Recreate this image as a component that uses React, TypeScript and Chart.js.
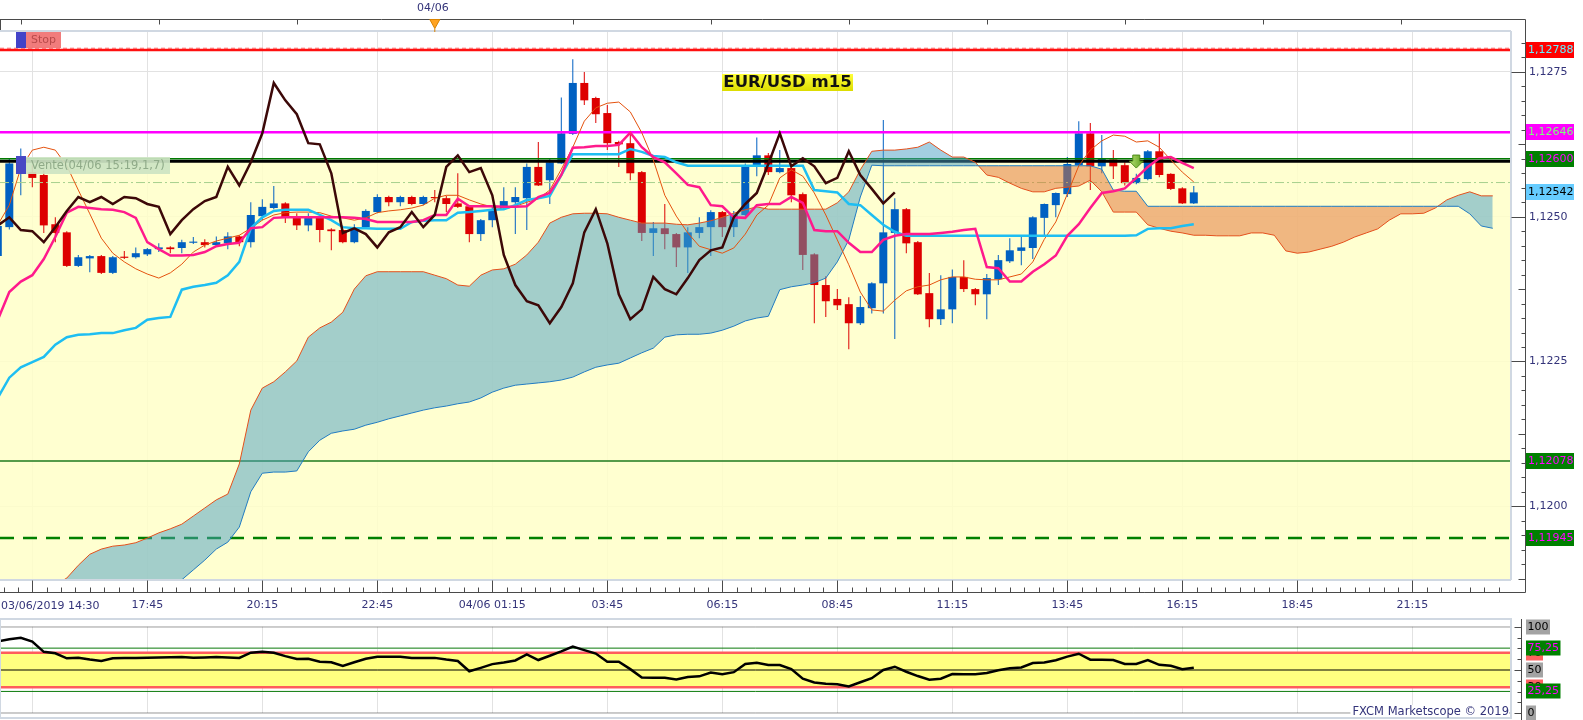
import React, { useEffect, useRef } from "react";
import Chart from "chart.js/auto";

// ---------- DATA ----------
const opens = [1.12432,1.12482,1.12580,1.12577,1.12572,1.12487,1.12473,1.12415,1.12428,1.12432,
1.12403,1.12431,1.12430,1.12435,1.12444,1.12447,1.12446,1.12455,1.12456,1.12451,
1.12454,1.12466,1.12456,1.12501,1.12515,1.12523,1.12499,1.12485,1.12499,1.12478,
1.12477,1.12456,1.12482,1.12508,1.12534,1.12525,1.12534,1.12522,1.12534,1.12532,
1.12523,1.12518,1.12470,1.12494,1.12515,1.12525,1.12532,1.12586,1.12563,1.12592,
1.12643,1.12731,1.12705,1.12679,1.12629,1.12627,1.12577,1.12472,1.12480,1.12470,
1.12447,1.12472,1.12482,1.12508,1.12482,1.12503,1.12586,1.12606,1.12577,1.12584,
1.12539,1.12435,1.12382,1.12358,1.12349,1.12316,1.12342,1.12385,1.12472,1.12513,
1.12456,1.12368,1.12323,1.12340,1.12396,1.12375,1.12366,1.12392,1.12423,1.12441,
1.12446,1.12498,1.12520,1.12539,1.12589,1.12644,1.12587,1.12599,1.12589,1.12558,
1.12565,1.12613,1.12574,1.12549,1.12523];
const closes = [1.12484,1.12592,1.12598,1.12567,1.12485,1.12472,1.12415,1.12430,1.12432,1.12403,
1.12430,1.12429,1.12437,1.12444,1.12447,1.12444,1.12456,1.12457,1.12451,1.12456,
1.12466,1.12456,1.12503,1.12517,1.12523,1.12499,1.12485,1.12499,1.12477,1.12475,
1.12456,1.12482,1.12510,1.12534,1.12525,1.12534,1.12522,1.12534,1.12532,1.12522,
1.12517,1.12470,1.12494,1.12513,1.12527,1.12534,1.12586,1.12554,1.12594,1.12644,
1.12731,1.12701,1.12677,1.12627,1.12625,1.12575,1.12472,1.12480,1.12470,1.12447,
1.12473,1.12482,1.12508,1.12482,1.12503,1.12586,1.12606,1.12577,1.12584,1.12537,
1.12434,1.12382,1.12354,1.12347,1.12316,1.12344,1.12385,1.12473,1.12513,1.12454,
1.12366,1.12323,1.12340,1.12396,1.12375,1.12366,1.12394,1.12425,1.12442,1.12447,
1.12499,1.12522,1.12541,1.12591,1.12644,1.12587,1.12601,1.12587,1.12558,1.12567,
1.12613,1.12572,1.12548,1.12523,1.12542];
const highs = [1.12487,1.12601,1.12618,1.12589,1.12580,1.12499,1.12475,1.12434,1.12434,1.12434,
1.12432,1.12441,1.12447,1.12446,1.12454,1.12449,1.12460,1.12465,1.12461,1.12466,
1.12473,1.12468,1.12525,1.12530,1.12553,1.12525,1.12506,1.12506,1.12503,1.12480,
1.12478,1.12487,1.12513,1.12539,1.12536,1.12536,1.12536,1.12536,1.12546,1.12536,
1.12575,1.12520,1.12496,1.12517,1.12551,1.12551,1.12592,1.12629,1.12601,1.12706,
1.12772,1.12750,1.12707,1.12693,1.12631,1.12646,1.12579,1.12491,1.12522,1.12472,
1.12482,1.12499,1.12511,1.12510,1.12510,1.12592,1.12637,1.12610,1.12615,1.12587,
1.12542,1.12437,1.12397,1.12375,1.12361,1.12363,1.12387,1.12667,1.12532,1.12515,
1.12458,1.12403,1.12399,1.12409,1.12425,1.12377,1.12401,1.12434,1.12463,1.12465,
1.12501,1.12523,1.12542,1.12603,1.12665,1.12662,1.12641,1.12615,1.12594,1.12574,
1.12615,1.12644,1.12575,1.12551,1.12553];
const lows = [1.12428,1.12478,1.12537,1.12551,1.12472,1.12456,1.12413,1.12413,1.12404,1.12401,
1.12401,1.12427,1.12428,1.12432,1.12439,1.12437,1.12437,1.12453,1.12447,1.12449,
1.12444,1.12449,1.12447,1.12494,1.12513,1.12489,1.12477,1.12475,1.12456,1.12442,
1.12454,1.12454,1.12480,1.12506,1.12518,1.12518,1.12520,1.12520,1.12525,1.12508,
1.12515,1.12456,1.12458,1.12482,1.12513,1.12470,1.12477,1.12553,1.12522,1.12591,
1.12641,1.12693,1.12662,1.12615,1.12586,1.12563,1.12458,1.12432,1.12444,1.12413,
1.12403,1.12463,1.12432,1.12465,1.12465,1.12501,1.12570,1.12572,1.12575,1.12525,
1.12408,1.12316,1.12327,1.12339,1.12271,1.12313,1.12333,1.12333,1.12289,1.12437,
1.12365,1.12309,1.12313,1.12316,1.12370,1.12347,1.12323,1.12382,1.12420,1.12416,
1.12427,1.12465,1.12499,1.12534,1.12587,1.12546,1.12575,1.12565,1.12554,1.12556,
1.12563,1.12568,1.12546,1.12522,1.12522];

const tenkan = [1.12322,1.12370,1.12388,1.12399,1.12427,1.12465,1.12507,1.12517,1.12515,1.12513,
1.12512,1.12508,1.12498,1.12456,1.12444,1.12433,1.12433,1.12434,1.12439,1.12449,
1.12453,1.12455,1.12480,1.12482,1.12498,1.12499,1.12499,1.12499,1.12499,1.12499,
1.12499,1.12498,1.12496,1.12491,1.12491,1.12491,1.12491,1.12494,1.12503,1.12503,
1.12531,1.12518,1.12518,1.12518,1.12517,1.12517,1.12518,1.12534,1.12541,1.12572,
1.12619,1.12620,1.12622,1.12622,1.12624,1.12645,1.12620,1.12603,1.12594,1.12575,
1.12555,1.12551,1.12520,1.12518,1.12499,1.12498,1.12520,1.12522,1.12522,1.12534,
1.12524,1.12477,1.12475,1.12475,1.12455,1.12439,1.12439,1.12460,1.12467,1.12470,
1.12470,1.12470,1.12472,1.12474,1.12477,1.12479,1.12413,1.12411,1.12388,1.12388,
1.12405,1.12418,1.12433,1.12467,1.12487,1.12515,1.12541,1.12544,1.12549,1.12567,
1.12586,1.12601,1.12603,1.12593,1.12584];
const kijun = [1.12187,1.12222,1.12240,1.12249,1.12258,1.12279,1.12292,1.12296,1.12297,1.12299,
1.12299,1.12304,1.12308,1.12322,1.12325,1.12327,1.12374,1.12379,1.12382,1.12386,
1.12399,1.12422,1.12480,1.12499,1.12510,1.12512,1.12512,1.12512,1.12503,1.12494,
1.12482,1.12480,1.12480,1.12479,1.12479,1.12479,1.12491,1.12493,1.12494,1.12494,
1.12507,1.12508,1.12510,1.12512,1.12513,1.12520,1.12529,1.12532,1.12536,1.12572,
1.12608,1.12608,1.12608,1.12608,1.12608,1.12617,1.12612,1.12605,1.12603,1.12594,
1.12588,1.12588,1.12588,1.12588,1.12588,1.12588,1.12588,1.12588,1.12588,1.12588,
1.12588,1.12546,1.12544,1.12542,1.12522,1.12520,1.12503,1.12486,1.12474,1.12467,
1.12467,1.12467,1.12467,1.12467,1.12467,1.12467,1.12467,1.12467,1.12467,1.12467,
1.12467,1.12467,1.12467,1.12467,1.12467,1.12467,1.12467,1.12467,1.12467,1.12468,
1.12479,1.12480,1.12480,1.12484,1.12487];
const thinAvg = [1.12486,1.12520,1.12584,1.12615,1.12620,1.12615,1.12588,1.12546,1.12505,1.12463,
1.12437,1.12422,1.12410,1.12401,1.12394,1.12403,1.12418,1.12439,1.12451,1.12458,
1.12463,1.12468,1.12480,1.12494,1.12503,1.12507,1.12508,1.12508,1.12507,1.12501,
1.12498,1.12494,1.12498,1.12507,1.12510,1.12512,1.12515,1.12520,1.12532,1.12537,
1.12537,1.12529,1.12522,1.12517,1.12513,1.12518,1.12525,1.12531,1.12546,1.12582,
1.12620,1.12665,1.12688,1.12696,1.12698,1.12681,1.12645,1.12598,1.12537,1.12501,
1.12472,1.12449,1.12443,1.12437,1.12446,1.12470,1.12503,1.12520,1.12567,1.12581,
1.12570,1.12541,1.12503,1.12460,1.12417,1.12370,1.12339,1.12337,1.12356,1.12372,
1.12379,1.12382,1.12391,1.12396,1.12396,1.12392,1.12391,1.12391,1.12396,1.12401,
1.12422,1.12461,1.12491,1.12539,1.12588,1.12615,1.12631,1.12641,1.12639,1.12629,
1.12631,1.12620,1.12598,1.12577,1.12560];
const senkouA = [1.11804,1.11812,1.11821,1.11838,1.11852,1.11864,1.11876,1.11898,1.11917,1.11926,
1.11931,1.11933,1.11937,1.11945,1.11954,1.11961,1.11969,1.11983,1.11997,1.12011,
1.12021,1.12073,1.12166,1.12204,1.12215,1.12232,1.12251,1.12292,1.12308,1.12318,
1.12335,1.12375,1.12398,1.12405,1.12405,1.12405,1.12405,1.12405,1.12399,1.12393,
1.12382,1.12380,1.12399,1.12408,1.12410,1.12418,1.12434,1.12456,1.12489,1.12499,
1.12505,1.12506,1.12506,1.12505,1.12499,1.12494,1.12489,1.12489,1.12489,1.12487,
1.12486,1.12489,1.12493,1.12499,1.12506,1.12512,1.12517,1.12513,1.12513,1.12513,
1.12513,1.12513,1.12513,1.12524,1.12543,1.12581,1.12613,1.12615,1.12615,1.12617,
1.12620,1.12629,1.12615,1.12603,1.12603,1.12594,1.12572,1.12568,1.12558,1.12549,
1.12543,1.12543,1.12549,1.12551,1.12553,1.12563,1.12543,1.12508,1.12508,1.12508,
1.12486,1.12480,1.12475,1.12472,1.12468,1.12468,1.12467,1.12467,1.12467,1.12472,
1.12472,1.12468,1.12441,1.12437,1.12439,1.12444,1.12449,1.12456,1.12465,1.12472,
1.12479,1.12494,1.12505,1.12505,1.12506,1.12515,1.12529,1.12537,1.12543,1.12536,
1.12536];
const senkouB = [1.11804,1.11804,1.11804,1.11804,1.11804,1.11804,1.11804,1.11804,1.11804,1.11804,
1.11804,1.11804,1.11804,1.11804,1.11804,1.11838,1.11873,1.11890,1.11907,1.11926,
1.11938,1.11964,1.12025,1.12057,1.12059,1.12059,1.12061,1.12094,1.12114,1.12126,
1.12130,1.12133,1.12140,1.12145,1.12151,1.12156,1.12161,1.12166,1.12170,1.12173,
1.12177,1.12180,1.12187,1.12197,1.12204,1.12209,1.12211,1.12213,1.12215,1.12218,
1.12223,1.12232,1.12240,1.12244,1.12247,1.12256,1.12265,1.12273,1.12292,1.12296,
1.12297,1.12297,1.12299,1.12304,1.12311,1.12320,1.12325,1.12328,1.12374,1.12379,
1.12382,1.12386,1.12394,1.12422,1.12460,1.12534,1.12589,1.12588,1.12588,1.12588,
1.12588,1.12588,1.12588,1.12588,1.12588,1.12588,1.12588,1.12588,1.12588,1.12588,
1.12588,1.12588,1.12588,1.12588,1.12588,1.12588,1.12582,1.12546,1.12544,1.12544,
1.12518,1.12518,1.12518,1.12518,1.12518,1.12518,1.12518,1.12518,1.12518,1.12518,
1.12518,1.12518,1.12518,1.12518,1.12518,1.12518,1.12518,1.12518,1.12518,1.12518,
1.12518,1.12518,1.12518,1.12518,1.12518,1.12518,1.12518,1.12518,1.12505,1.12484,
1.12480];
const oscValues = [83,85.5,87.3,82.7,71,69.3,63.5,64.2,62,60.4,
63.5,63.8,64,64.2,64.5,64.8,65,64.2,64.5,65,
64.5,64,70,71,70,66,62.7,63,59.5,58.9,
54.6,59,63,65.4,65.4,65.4,63.8,64,64,62,
60.4,48.5,52.5,56.8,58.7,61,68,61.5,66.5,71.5,
77,73,69,59.6,59.5,51,41.2,41.1,41,39,
42,42.7,47,45,47.5,57,58.4,55.8,55.8,51,
40,35.5,34,33.5,31,35.8,40.5,50,53.8,48,
43,38.7,40,45.4,45.2,45,46.5,49.7,52,53,
58,58.7,61.3,65.4,68.8,61.9,61.7,61.5,57,57,
61.5,56,54.8,51,52.7];

const chikouShift = 26;
const xTickIdx = [3, 13, 23, 33, 43, 53, 63, 73, 83, 93, 103, 113, 123];
const xTickLabels = ["", "17:45", "20:15", "22:45", "04/06 01:15", "03:45", "06:15", "08:45", "11:15", "13:45", "16:15", "18:45", "21:15"];
const firstBarLabel = "03/06/2019 14:30";
const yTickValues = [1.12, 1.1225, 1.125, 1.1275];
const dayStartIdx = 38;
const dayStartLabel = "04/06";
const signalIdx = 99;
const signalPrice = 1.12584;

const stopLevel = 1.12788;
const magentaLevel = 1.12646;
const greenLevel = 1.126;
const zoneTop = 1.12596;
const entryLevel = 1.12559;
const lastPrice = 1.12542;
const supportLevel = 1.12078;
const targetLevel = 1.11945;

const oscLevels = [100, 75.25, 70, 50, 30, 25.25, 0];

// ---------- LAYOUT CONSTANTS ----------
const X_MIN = 0.1913;
const X_MAX = 131.583;
const Y_MIN = 1.118726;
const Y_MAX = 1.12819;
const FONT = "'DejaVu Sans', sans-serif";
const NAVY = "#34347a";
const UP = "#0060C2";
const DOWN = "#DD0000";

const fmt = (v: number, d: number) => v.toFixed(d).replace(".", ",");

function hline(value: number, color: string, width: number, order: number, dash?: number[]) {
  return {
    type: "line" as const,
    data: [{ x: X_MIN, y: value }, { x: X_MAX, y: value }],
    borderColor: color,
    borderWidth: width,
    borderDash: dash || [],
    pointRadius: 0,
    fill: false,
    order,
  };
}

const priceLabels = [
  { v: stopLevel, bg: "#FF0000", fg: "#66F0FF" },
  { v: magentaLevel, bg: "#FF00FF", fg: "#7CFF7C" },
  { v: greenLevel, bg: "#008000", fg: "#FF00FF" },
  { v: lastPrice, bg: "#66CCFF", fg: "#000000" },
  { v: supportLevel, bg: "#008000", fg: "#FF00FF" },
  { v: targetLevel, bg: "#008000", fg: "#FF00FF" },
];

const mainDecor = {
  id: "mainDecor",
  beforeDatasetsDraw(chart: any) {
    const { ctx, chartArea: ca, scales } = chart;
    const top = scales.y.getPixelForValue(zoneTop);
    ctx.save();
    ctx.fillStyle = "rgba(255,255,200,0.85)";
    ctx.fillRect(ca.left, top, ca.right - ca.left, ca.bottom - top);
    ctx.restore();
  },
  afterDraw(chart: any) {
    const { ctx, chartArea: ca, scales } = chart;
    const x = scales.x, y = scales.y;
    const AX = 1525.5, TOPY = 19.5, BOTY = 592.5;
    ctx.save();
    // plot frame
    ctx.strokeStyle = "#D0D8E2";
    ctx.lineWidth = 2;
    ctx.beginPath();
    ctx.moveTo(0, ca.top - 1); ctx.lineTo(ca.right, ca.top - 1);
    ctx.moveTo(ca.right, ca.top - 1); ctx.lineTo(ca.right, ca.bottom);
    ctx.moveTo(0, ca.bottom); ctx.lineTo(ca.right, ca.bottom);
    ctx.stroke();
    // axes
    ctx.strokeStyle = "#4a4a4a";
    ctx.lineWidth = 1;
    ctx.beginPath();
    ctx.moveTo(0, TOPY); ctx.lineTo(AX, TOPY); ctx.lineTo(AX, BOTY); ctx.lineTo(0, BOTY);
    ctx.moveTo(0.5, TOPY); ctx.lineTo(0.5, ca.top - 2);
    // price ticks
    const k0 = Math.ceil(Y_MIN * 4000), k1 = Math.floor(Y_MAX * 4000);
    for (let k = k0; k <= k1; k++) {
      const py = Math.round(y.getPixelForValue(k / 4000)) + 0.5;
      const len = k % 10 === 0 ? 14 : k % 5 === 0 ? 7 : 4;
      ctx.moveTo(AX - len, py); ctx.lineTo(AX, py);
    }
    // time ticks bottom
    for (let b = 3 - 2.5; b <= X_MAX; b += 1.25) {
      const px = Math.round(x.getPixelForValue(b)) + 0.5;
      const major = Math.abs(((b - 3) / 10) - Math.round((b - 3) / 10)) < 1e-6;
      ctx.moveTo(px, BOTY); ctx.lineTo(px, BOTY - (major ? 12 : 5));
    }
    // time ticks top
    for (let b = 2; b <= X_MAX; b += 12) {
      const px = Math.round(x.getPixelForValue(b)) + 0.5;
      ctx.moveTo(px, TOPY); ctx.lineTo(px, TOPY + 5);
    }
    ctx.stroke();

    // first date label
    ctx.font = `11px ${FONT}`;
    ctx.fillStyle = NAVY;
    ctx.textBaseline = "middle";
    ctx.textAlign = "left";
    ctx.fillText(firstBarLabel, 1, 606);

    // day marker on top
    const dx = x.getPixelForValue(dayStartIdx);
    ctx.textAlign = "center";
    ctx.fillText(dayStartLabel, dx - 2, 8);
    ctx.fillStyle = "#FFA321";
    ctx.strokeStyle = "#D98200";
    ctx.beginPath();
    ctx.moveTo(dx - 5, TOPY); ctx.lineTo(dx + 5, TOPY); ctx.lineTo(dx, TOPY + 9); ctx.closePath();
    ctx.fill(); ctx.stroke();
    ctx.beginPath(); ctx.moveTo(dx, TOPY + 9); ctx.lineTo(dx, ca.top); ctx.stroke();

    // price labels
    ctx.textAlign = "left";
    for (const p of priceLabels) {
      const py = y.getPixelForValue(p.v);
      ctx.fillStyle = p.bg;
      ctx.fillRect(1526, Math.round(py) - 8, 48, 16);
      ctx.fillStyle = p.fg;
      ctx.fillText(fmt(p.v, 5), 1528, Math.round(py) + 0.5);
    }

    // Stop label
    ctx.fillStyle = "#4343C8";
    ctx.fillRect(16, 32, 10, 16);
    ctx.fillStyle = "rgba(240,110,110,0.9)";
    ctx.fillRect(26, 32, 35, 16);
    ctx.fillStyle = "#B84A4A";
    ctx.font = `11px ${FONT}`;
    ctx.fillText("Stop", 31, 40.5);

    // Vente label
    ctx.fillStyle = "#4848C4";
    ctx.fillRect(16, 156, 10, 18);
    ctx.fillStyle = "rgba(205,228,195,0.92)";
    ctx.fillRect(26, 157, 144, 17);
    ctx.fillStyle = "#8FAA88";
    ctx.font = `11.5px ${FONT}`;
    ctx.fillText("Vente(04/06 15:19,1,7)", 31, 166);

    // Title
    const g = ctx.createLinearGradient(0, 74, 0, 91);
    g.addColorStop(0, "#FFFF3A");
    g.addColorStop(1, "#DCDC00");
    ctx.fillStyle = g;
    ctx.fillRect(722, 74, 131, 17);
    ctx.fillStyle = "#111";
    ctx.font = `bold 16.5px ${FONT}`;
    ctx.textAlign = "center";
    ctx.fillText("EUR/USD m15", 787.5, 83);

    // signal arrow
    const sx = x.getPixelForValue(signalIdx);
    const sy = y.getPixelForValue(signalPrice);
    const ag = ctx.createLinearGradient(sx - 7, 0, sx + 7, 0);
    ag.addColorStop(0, "#B8E070");
    ag.addColorStop(1, "#5C9E1E");
    ctx.fillStyle = ag;
    ctx.strokeStyle = "#4C8A18";
    ctx.lineWidth = 1;
    ctx.beginPath();
    ctx.moveTo(sx - 3.5, sy - 13); ctx.lineTo(sx + 3.5, sy - 13); ctx.lineTo(sx + 3.5, sy - 7);
    ctx.lineTo(sx + 7, sy - 7); ctx.lineTo(sx, sy); ctx.lineTo(sx - 7, sy - 7); ctx.lineTo(sx - 3.5, sy - 7);
    ctx.closePath();
    ctx.fill(); ctx.stroke();
    ctx.restore();
  },
};

const oscLabelDefs = [
  { v: 100, t: "100", bg: "#A3A3A3", fg: "#000" },
  { v: 70, t: "70", bg: "#FF6060", fg: "#000" },
  { v: 30, t: "30", bg: "#FF6060", fg: "#000" },
  { v: 50, t: "50", bg: "#A3A3A3", fg: "#000" },
  { v: 0, t: "0", bg: "#A3A3A3", fg: "#000" },
  { v: 75.25, t: "75,25", bg: "#008000", fg: "#FF00FF" },
  { v: 25.25, t: "25,25", bg: "#008000", fg: "#FF00FF" },
];

const oscDecor = {
  id: "oscDecor",
  afterDraw(chart: any) {
    const { ctx, chartArea: ca, scales } = chart;
    const y = scales.y;
    ctx.save();
    ctx.strokeStyle = "#D0D8E2";
    ctx.lineWidth = 2;
    ctx.strokeRect(0, 2, ca.right, 99);
    ctx.strokeStyle = "#4a4a4a";
    ctx.lineWidth = 1;
    ctx.beginPath();
    ctx.moveTo(1521.5, 2); ctx.lineTo(1521.5, 103);
    for (let v = 0; v <= 100; v += 12.5) {
      const py = Math.round(y.getPixelForValue(v)) + 0.5;
      const len = v % 50 === 0 ? 7 : 4;
      ctx.moveTo(1521.5 - len, py); ctx.lineTo(1521.5, py);
    }
    ctx.stroke();
    ctx.font = `11px ${FONT}`;
    ctx.textBaseline = "middle";
    ctx.textAlign = "left";
    for (const l of oscLabelDefs) {
      const py = Math.round(y.getPixelForValue(l.v));
      const w = ctx.measureText(l.t).width + 3;
      ctx.fillStyle = l.bg;
      ctx.fillRect(1526, py - 7.5, w, 15);
      ctx.fillStyle = l.fg;
      ctx.fillText(l.t, 1527.5, py + 0.5);
    }
    // copyright
    ctx.font = `11.5px ${FONT}`;
    const txt = "FXCM Marketscope \u00A9 2019";
    const tw = ctx.measureText(txt).width;
    ctx.fillStyle = "#fff";
    ctx.fillRect(1509 - tw - 2, 88, tw + 2, 12);
    ctx.fillStyle = NAVY;
    ctx.textAlign = "right";
    ctx.fillText(txt, 1509, 95);
    ctx.restore();
  },
};

function mainConfig(): any {
  const idx = opens.map((_, i) => i);
  const col = idx.map((i) => (closes[i] >= opens[i] ? UP : DOWN));
  return {
    type: "bar",
    data: {
      datasets: [
        { type: "bar", data: idx.map((i) => ({ x: i, y: [lows[i], highs[i]] })), backgroundColor: col, barThickness: 1, grouped: false, inflateAmount: 0, order: 20 },
        { type: "bar", data: idx.map((i) => ({ x: i, y: [opens[i], closes[i]] })), backgroundColor: col, barThickness: 8, grouped: false, minBarLength: 1, inflateAmount: 0, order: 19 },
        hline(stopLevel, "#FF1010", 2.5, 15),
        hline(stopLevel + 0.00003, "#FF7070", 1, 15, [4, 3]),
        hline(magentaLevel, "#FF00FF", 2.5, 15),
        hline(greenLevel, "#007A00", 1.5, 15),
        hline(zoneTop, "#000000", 3, 15),
        hline(entryLevel, "#A6D08E", 1, 15, [9, 3, 2, 3]),
        hline(supportLevel, "#1E7A1E", 1.5, 15),
        hline(targetLevel, "#008000", 2.5, 15, [14, 9]),
        {
          type: "line", data: senkouA.map((v, i) => ({ x: i, y: v })), borderColor: "#E4501C", borderWidth: 1, pointRadius: 0,
          fill: { target: "+1", above: "rgba(71,157,196,0.5)", below: "rgba(226,112,50,0.5)" }, order: 10,
        },
        { type: "line", data: senkouB.map((v, i) => ({ x: i, y: v })), borderColor: "#1E7CC4", borderWidth: 1, pointRadius: 0, fill: false, order: 9 },
        { type: "line", data: thinAvg.map((v, i) => ({ x: i, y: v })), borderColor: "#E4520E", borderWidth: 1, pointRadius: 0, fill: false, order: 5 },
        { type: "line", data: kijun.map((v, i) => ({ x: i, y: v })), borderColor: "#1EBEF2", borderWidth: 2.5, pointRadius: 0, fill: false, order: 4 },
        { type: "line", data: tenkan.map((v, i) => ({ x: i, y: v })), borderColor: "#FF1A8C", borderWidth: 2.5, pointRadius: 0, fill: false, order: 3 },
        { type: "line", data: closes.slice(chikouShift).map((v, i) => ({ x: i, y: v })), borderColor: "#3C0808", borderWidth: 2.5, pointRadius: 0, fill: false, order: 2 },
      ],
    },
    options: {
      responsive: false,
      animation: false,
      events: [],
      layout: { padding: { top: 32, left: 0, right: 0, bottom: 0 } },
      plugins: { legend: { display: false }, tooltip: { enabled: false } },
      scales: {
        x: {
          type: "linear", min: X_MIN, max: X_MAX, offset: false,
          grid: { color: "#E2E2E2", drawTicks: false, offset: false },
          border: { display: false },
          afterBuildTicks: (s: any) => { s.ticks = xTickIdx.map((v) => ({ value: v })); },
          afterFit: (s: any) => { s.height = 37; s.paddingLeft = 0; s.paddingRight = 0; },
          ticks: {
            autoSkip: false, maxRotation: 0, padding: 19, color: NAVY, font: { family: FONT, size: 11 },
            callback: (_v: any, i: number) => xTickLabels[i],
          },
        },
        y: {
          type: "linear", position: "right", min: Y_MIN, max: Y_MAX,
          grid: { color: "#E2E2E2", drawTicks: false },
          border: { display: false },
          afterBuildTicks: (s: any) => { s.ticks = yTickValues.map((v) => ({ value: v })); },
          afterFit: (s: any) => { s.width = 72; },
          ticks: { padding: 18, color: NAVY, font: { family: FONT, size: 11 }, callback: (v: any) => fmt(Number(v), 4) },
        },
      },
    },
    plugins: [mainDecor],
  };
}

function oscConfig(): any {
  const lvl = (v: number) => [{ x: X_MIN, y: v }, { x: X_MAX, y: v }];
  return {
    type: "line",
    data: {
      datasets: [
        { data: lvl(70), borderColor: "#FF5C5C", borderWidth: 2.5, pointRadius: 0, fill: { target: "+1", above: "#FFFF80" }, order: 10 },
        { data: lvl(30), borderColor: "#FF5C5C", borderWidth: 2.5, pointRadius: 0, fill: false, order: 9 },
        ...oscLevels.filter((v) => v !== 70 && v !== 30).map((v) => ({
          data: lvl(v), borderColor: v === 75.25 || v === 25.25 ? "#0A7A0A" : "#000000", borderWidth: 1, pointRadius: 0, fill: false, order: 8,
        })),
        { data: oscValues.map((v, i) => ({ x: i, y: v })), borderColor: "#000000", borderWidth: 2.5, pointRadius: 0, fill: false, order: 1 },
      ],
    },
    options: {
      responsive: false,
      animation: false,
      events: [],
      layout: { padding: { top: 9.7, left: 0, right: 0, bottom: 6.7 } },
      plugins: { legend: { display: false }, tooltip: { enabled: false } },
      scales: {
        x: {
          type: "linear", min: X_MIN, max: X_MAX, offset: false,
          grid: { color: "#E2E2E2", drawTicks: false },
          border: { display: false },
          afterBuildTicks: (s: any) => { s.ticks = xTickIdx.map((v) => ({ value: v })); },
          afterFit: (s: any) => { s.height = 0; s.paddingLeft = 0; s.paddingRight = 0; },
          ticks: { display: false },
        },
        y: {
          type: "linear", position: "right", min: 0, max: 100,
          grid: { display: false },
          border: { display: false },
          afterFit: (s: any) => { s.width = 72; },
          ticks: { display: false },
        },
      },
    },
    plugins: [oscDecor],
  };
}

export default function App() {
  const mainRef = useRef<HTMLCanvasElement>(null);
  const oscRef = useRef<HTMLCanvasElement>(null);
  useEffect(() => {
    const main = new Chart(mainRef.current as HTMLCanvasElement, mainConfig());
    const osc = new Chart(oscRef.current as HTMLCanvasElement, oscConfig());
    return () => { main.destroy(); osc.destroy(); };
  }, []);
  return (
    <div style={{ position: "absolute", left: 0, top: 0, width: 1583, height: 720, background: "#fff", overflow: "hidden" }}>
      <canvas ref={mainRef} width={1583} height={617} style={{ position: "absolute", left: 0, top: 0 }} />
      <canvas ref={oscRef} width={1583} height={103} style={{ position: "absolute", left: 0, top: 617 }} />
    </div>
  );
}
